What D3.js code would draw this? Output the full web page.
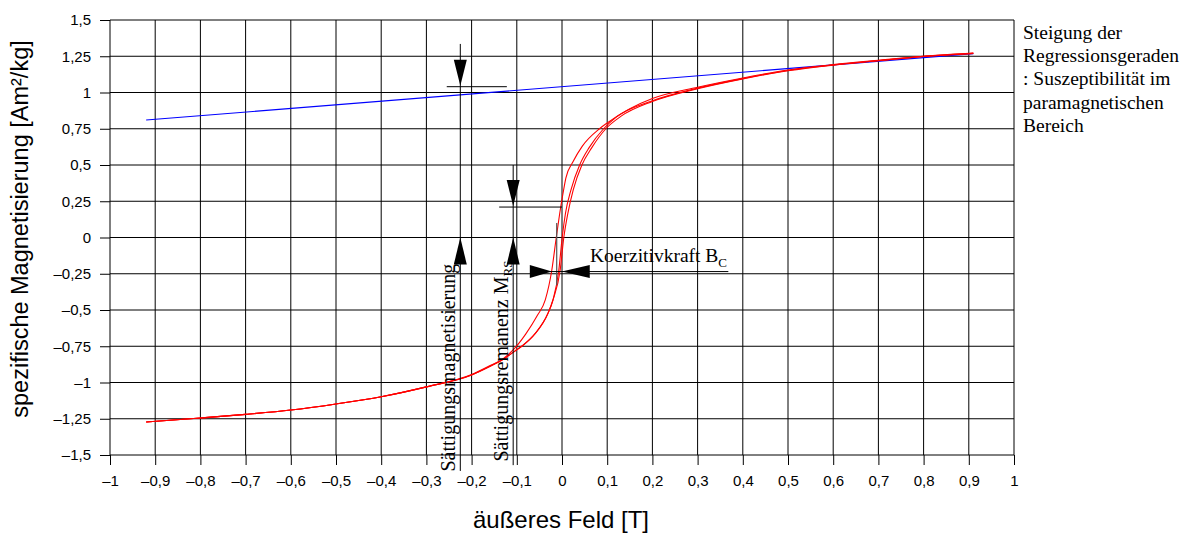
<!DOCTYPE html>
<html><head><meta charset="utf-8">
<script src="https://cdn.jsdelivr.net/npm/d3@7"></script>
<style>html,body{margin:0;padding:0;background:#fff;}svg{display:block;}</style>
</head><body>
<svg id="chart" width="1191" height="534"></svg>
<script>
// ---------- data ----------
const xTicks = [-1,-0.9,-0.8,-0.7,-0.6,-0.5,-0.4,-0.3,-0.2,-0.1,0,0.1,0.2,0.3,0.4,0.5,0.6,0.7,0.8,0.9,1];
const xTickLabels = ["–1","–0,9","–0,8","–0,7","–0,6","–0,5","–0,4","–0,3","–0,2","–0,1","0","0,1","0,2","0,3","0,4","0,5","0,6","0,7","0,8","0,9","1"];
const yTicks = [1.5,1.25,1,0.75,0.5,0.25,0,-0.25,-0.5,-0.75,-1,-1.25,-1.5];
const yTickLabels = ["1,5","1,25","1","0,75","0,5","0,25","0","–0,25","–0,5","–0,75","–1","–1,25","–1,5"];

// hysteresis loop, descending-field (upper) branch
const fieldUpper = [-0.92,-0.8,-0.7,-0.6,-0.5,-0.4,-0.3,-0.2,-0.16,-0.13,-0.105,-0.08,-0.055,-0.037,-0.0225,-0.0127,-0.005,0.002,0.0085,0.024,0.045,0.083,0.1,0.15,0.2,0.3,0.4,0.5,0.6,0.7,0.8,0.91];
const magUpper   = [-1.272,-1.245,-1.22,-1.19,-1.148,-1.098,-1.03,-0.945,-0.885,-0.835,-0.765,-0.665,-0.54,-0.43,-0.224,0,0.167,0.3,0.41,0.52,0.63,0.75,0.79,0.888,0.958,1.036,1.1,1.155,1.192,1.222,1.25,1.272];
// ascending-field (lower) branch
const fieldLower = [-0.92,-0.8,-0.7,-0.6,-0.5,-0.4,-0.3,-0.2,-0.16,-0.13,-0.105,-0.087,-0.06,-0.031,-0.02,-0.007,0.0004,0.0077,0.02,0.039,0.06,0.092,0.12,0.2,0.3,0.4,0.5,0.6,0.7,0.8,0.91];
const magLower   = [-1.272,-1.245,-1.22,-1.19,-1.148,-1.098,-1.03,-0.948,-0.89,-0.84,-0.785,-0.745,-0.665,-0.523,-0.431,-0.224,0,0.167,0.33,0.5,0.62,0.75,0.83,0.943,1.03,1.096,1.152,1.19,1.22,1.249,1.27];
// second ascending curve
const fieldThird = [-0.92,-0.8,-0.7,-0.6,-0.5,-0.4,-0.3,-0.2,-0.16,-0.13,-0.105,-0.087,-0.06,-0.031,-0.02,-0.004,0.004,0.013,0.025,0.044,0.066,0.097,0.13,0.2,0.3,0.4,0.5,0.6,0.7,0.8,0.91];
const magThird   = [-1.272,-1.245,-1.22,-1.19,-1.148,-1.098,-1.03,-0.948,-0.89,-0.84,-0.785,-0.745,-0.665,-0.523,-0.431,-0.224,0,0.167,0.33,0.5,0.62,0.75,0.835,0.938,1.026,1.094,1.15,1.189,1.219,1.248,1.27];

// regression line in the paramagnetic range
const regField = [-0.92, 0.91];
const regMag   = [0.81, 1.268];

// annotation markers (field position, value, horizontal line extent, vertical line extent)
const markerField   = [-0.225, -0.108];
const markerValue   = [1.04, 0.21];
const markerLineX0  = [-0.255, -0.139];
const markerLineX1  = [-0.122, 0];
const markerTop     = [1.335, 0.5];
const markerBottom  = [-1.61, -1.57];
const markerLabel   = ["Sättigungsmagnetisierung", "Sättigungsremanenz M"];
const markerSub     = ["", "RS"];

// coercive force marker
const coerValue = -0.235;
const coerLeftTip = -0.0225, coerRightTip = -0.0005;
const coerLine = [-0.0705, 0.368];
const coerBar = {field: -0.0117, top: 0.1, bottom: -0.33};

const noteLines = ["Steigung der","Regressionsgeraden",": Suszeptibilität im","paramagnetischen","Bereich"];

// ---------- drawing ----------
const svg = d3.select("#chart");
const x = d3.scaleLinear().domain([-1,1]).range([110,1014]);
const y = d3.scaleLinear().domain([-1.5,1.5]).range([455,20]);
const sans = "'Liberation Sans', Arial, sans-serif";
const serif = "'Liberation Serif', 'Times New Roman', serif";

// grid
const grid = svg.append("g");
grid.selectAll("line.v").data(xTicks).join("line")
  .attr("x1", d=>x(d)).attr("x2", d=>x(d)).attr("y1", y(1.5)).attr("y2", y(-1.5))
  .attr("stroke","#000").attr("stroke-width",1);
grid.selectAll("line.h").data(yTicks).join("line")
  .attr("x1", x(-1)).attr("x2", x(1)).attr("y1", d=>y(d)).attr("y2", d=>y(d))
  .attr("stroke","#000").attr("stroke-width",1);

// axes
const xAxis = d3.axisBottom(x).tickValues(xTicks).tickSize(10).tickFormat((d,i)=>xTickLabels[i]);
const gx = svg.append("g").attr("transform",`translate(0,${y(-1.5)})`).call(xAxis);
gx.select(".domain").remove();
gx.selectAll("line").attr("stroke","#000");
gx.selectAll("text").attr("font-family",sans).attr("font-size",15).attr("fill","#000").attr("dy","1.05em").attr("y",15);

const yAxis = d3.axisLeft(y).tickValues(yTicks).tickSize(10).tickFormat((d,i)=>yTickLabels[i]);
const gy = svg.append("g").attr("transform",`translate(${x(-1)},0)`).call(yAxis);
gy.select(".domain").remove();
gy.selectAll("line").attr("stroke","#000");
gy.selectAll("text").attr("font-family",sans).attr("font-size",15).attr("fill","#000").attr("x",-19);

// axis titles
svg.append("text").attr("transform",`translate(28,229) rotate(-90)`)
  .attr("text-anchor","middle").attr("font-family",sans).attr("font-size",23.5)
  .text("spezifische Magnetisierung [Am²/kg]");
svg.append("text").attr("x", 561).attr("y", 528).attr("text-anchor","middle")
  .attr("font-family",sans).attr("font-size",24)
  .text("äußeres Feld [T]");

// regression line
const line = d3.line().x(d=>x(d[0])).y(d=>y(d[1]));
svg.append("path").datum(d3.zip(regField, regMag)).attr("d", line)
  .attr("fill","none").attr("stroke","#0000ff").attr("stroke-width",1.1);

// hysteresis curves
const curve = d3.line().x(d=>x(d[0])).y(d=>y(d[1])).curve(d3.curveMonotoneX);
[[fieldUpper,magUpper],[fieldLower,magLower],[fieldThird,magThird]].forEach(([f,m])=>{
  svg.append("path").datum(d3.zip(f,m)).attr("d", curve)
    .attr("fill","none").attr("stroke","#ff0000").attr("stroke-width",1.1);
});

// annotation markers
function triangle(tx, ty, dir, len, half){
  if(dir==='down') return `M${tx},${ty}L${tx-half},${ty-len}L${tx+half},${ty-len}Z`;
  if(dir==='up') return `M${tx},${ty}L${tx-half},${ty+len}L${tx+half},${ty+len}Z`;
  if(dir==='right') return `M${tx},${ty}L${tx-len},${ty-half}L${tx-len},${ty+half}Z`;
  return `M${tx},${ty}L${tx+len},${ty-half}L${tx+len},${ty+half}Z`;
}
const ann = svg.append("g");
markerField.forEach((f,i)=>{
  const px = x(f);
  ann.append("line").attr("x1",px).attr("x2",px).attr("y1",y(markerTop[i])).attr("y2",y(markerBottom[i]))
    .attr("stroke","#000").attr("stroke-width",1);
  ann.append("line").attr("x1",x(markerLineX0[i])).attr("x2",x(markerLineX1[i]))
    .attr("y1",y(markerValue[i])).attr("y2",y(markerValue[i])).attr("stroke","#000").attr("stroke-width",1);
  ann.append("path").attr("d", triangle(px, y(markerValue[i])-1, 'down', 26, 6.5)).attr("fill","#000");
  ann.append("path").attr("d", triangle(px, y(0), 'up', 27, 6.5)).attr("fill","#000");
  const t = ann.append("text").attr("transform",`translate(${px-5.5},${y(-1.5)+(i===0?16.5:6.5)}) rotate(-90)`)
    .attr("font-family",serif).attr("font-size",20).attr("fill","#000").text(markerLabel[i]);
  if(markerSub[i]) t.append("tspan").attr("font-size",13).attr("dy",4).text(markerSub[i]);
});

// coercive force
ann.append("line").attr("x1",x(coerBar.field)).attr("x2",x(coerBar.field))
  .attr("y1",y(coerBar.top)).attr("y2",y(coerBar.bottom)).attr("stroke","#555").attr("stroke-width",1.2);
ann.append("line").attr("x1",x(coerLine[0])).attr("x2",x(coerLine[1]))
  .attr("y1",y(coerValue)).attr("y2",y(coerValue)).attr("stroke","#000").attr("stroke-width",1);
ann.append("path").attr("d", triangle(x(coerLeftTip), y(coerValue), 'right', 22, 6.5)).attr("fill","#000");
ann.append("path").attr("d", triangle(x(coerRightTip), y(coerValue), 'left', 28, 6.5)).attr("fill","#000");
const kt = ann.append("text").attr("x",590).attr("y",y(coerValue)-10)
  .attr("font-family",serif).attr("font-size",19.5).attr("fill","#000").text("Koerzitivkraft B");
kt.append("tspan").attr("font-size",13).attr("dy",5).text("C");

// note at right
svg.append("g").selectAll("text").data(noteLines).join("text")
  .attr("x",1023).attr("y",(d,i)=>39 + i*23.2)
  .attr("font-family",serif).attr("font-size",19.5).attr("fill","#000").text(d=>d);
</script>
</body></html>
